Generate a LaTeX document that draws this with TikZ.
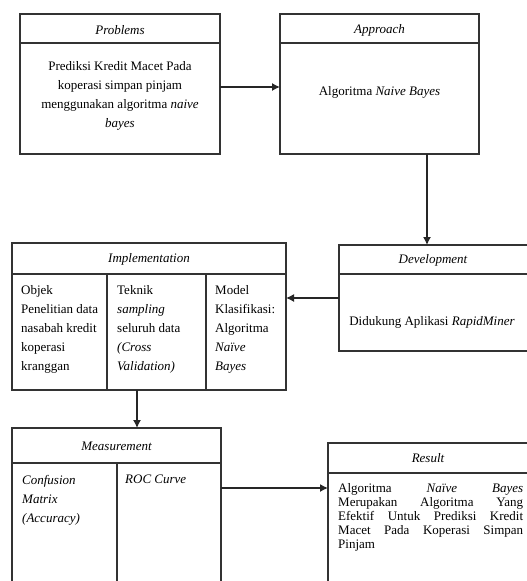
\documentclass[tikz,border=0pt]{standalone}
\usepackage{fontspec}
\setmainfont{Liberation Serif}
\usetikzlibrary{arrows.meta,calc}
\tikzset{
  boxs/.style={draw=black!80, line width=1.3pt, inner sep=0pt, outer sep=0pt, anchor=north west},
  sep/.style={draw=black!80, line width=1.3pt},
  arr/.style={draw=black!85, line width=1.3pt, -{Latex[length=8pt,width=8pt]}},
  hdr/.style={font=\fontsize{13}{15}\selectfont\itshape, inner sep=0pt},
  body/.style={font=\fontsize{13}{19}\selectfont, inner sep=0pt},
}
\begin{document}
\begin{tikzpicture}[x=1pt,y=-1pt]
\useasboundingbox (0,0) rectangle (527,581);
\clip (0,0) rectangle (527,581);
\fill[white] (0,0) rectangle (527,581);

% Problems
\node[boxs, minimum width=200pt, minimum height=140pt] (prob) at (20,14) {};
\draw[sep] ([yshift=-29pt]prob.north west) -- ([yshift=-29pt]prob.north east);
\node[hdr] (probh) at (120,30) {Problems};
\node[body, align=center, anchor=north] (probt) at (120,61.5) {Prediksi Kredit Macet Pada\\koperasi simpan pinjam\\menggunakan algoritma \textit{naive}\\\textit{bayes}};

% Approach
\node[boxs, minimum width=199pt, minimum height=140pt] (appr) at (280,14) {};
\draw[sep] ([yshift=-29pt]appr.north west) -- ([yshift=-29pt]appr.north east);
\node[hdr] (apprh) at (379.5,30) {Approach};
\node[body] (apprt) at (379.5,92) {Algoritma \textit{Naive Bayes}};

% Implementation
\node[boxs, minimum width=274pt, minimum height=147pt] (impl) at (12,243) {};
\draw[sep] ([yshift=-31pt]impl.north west) -- ([yshift=-31pt]impl.north east);
\draw[sep] (107,274) -- (107,390);
\draw[sep] (206,274) -- (206,390);
\node[hdr] (implh) at (149,259) {Implementation};
\node[body, align=left, anchor=north west] (impl1) at (21,285) {Objek\\Penelitian data\\nasabah kredit\\koperasi\\kranggan};
\node[body, align=left, anchor=north west] (impl2) at (117,285) {Teknik\\\textit{sampling}\\seluruh data\\\textit{(Cross}\\\textit{Validation)}};
\node[body, align=left, anchor=north west] (impl3) at (215,285) {Model\\Klasifikasi:\\Algoritma\\\textit{Naïve}\\\textit{Bayes}};

% Development
\node[boxs, minimum width=190pt, minimum height=106pt] (dev) at (339,245) {};
\draw[sep] ([yshift=-29pt]dev.north west) -- ([yshift=-29pt]dev.north east);
\node[hdr] (devh) at (433,260) {Development};
\node[body] (devt) at (432,322) {Didukung Aplikasi \textit{RapidMiner}};

% Measurement
\node[boxs, minimum width=209pt, minimum height=180pt] (meas) at (12,428) {};
\draw[sep] ([yshift=-35pt]meas.north west) -- ([yshift=-35pt]meas.north east);
\draw[sep] (117,463) -- (117,610);
\node[hdr] (meash) at (116.5,446) {Measurement};
\node[body, align=left, anchor=north west, font=\fontsize{13}{19}\selectfont\itshape] (meas1) at (22,475) {Confusion\\Matrix\\(Accuracy)};
\node[body, align=left, anchor=north west, font=\fontsize{13}{19}\selectfont\itshape] (meas2) at (125,475) {ROC Curve};

% Result
\node[boxs, minimum width=202pt, minimum height=170pt] (res) at (328,443) {};
\draw[sep] ([yshift=-30pt]res.north west) -- ([yshift=-30pt]res.north east);
\node[hdr] (resh) at (428,458) {Result};
\node[body, align=left, anchor=north west, font=\fontsize{13}{14}\selectfont] (rest) at (338,483) {%
\hbox to 185pt{Algoritma\hfill\textit{Naïve}\hfill\textit{Bayes}}\\
\hbox to 185pt{Merupakan\hfill Algoritma\hfill Yang}\\
\hbox to 185pt{Efektif\hfill Untuk\hfill Prediksi\hfill Kredit}\\
\hbox to 185pt{Macet\hfill Pada\hfill Koperasi\hfill Simpan}\\
Pinjam};

% Connectors
\draw[arr] ([yshift=-3pt]prob.east) -- ([yshift=-3pt]appr.west);
\draw[arr] ([xshift=-52pt]appr.south east) -- ([xshift=-52pt]appr.south east |- dev.north);
\draw[arr] (dev.west) -- (dev.west -| impl.east);
\draw[arr] ([xshift=-12pt]impl.south) -- ([xshift=-12pt]impl.south |- meas.north);
\draw[arr] ([yshift=-60pt]meas.north east) -- ([yshift=-60pt]meas.north east -| res.west);
\end{tikzpicture}
\end{document}
